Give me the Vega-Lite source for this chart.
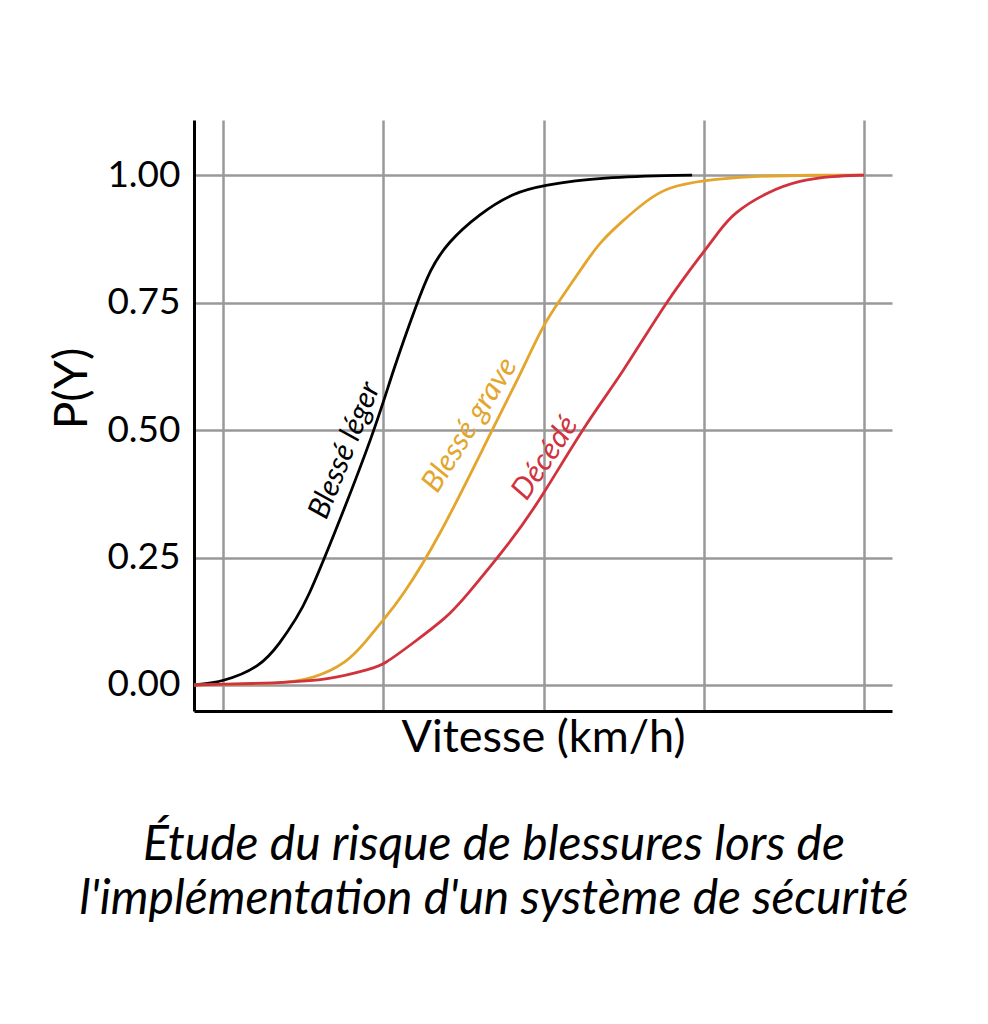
{
  "$schema": "https://vega.github.io/schema/vega-lite/v6.json",
  "autosize": "none",
  "width": 698,
  "height": 591,
  "padding": {"left": 194, "top": 120, "right": 96, "bottom": 313},
  "background": "white",
  "config": {
    "view": {"stroke": null},
    "font": "Lato"
  },
  "title": {
    "text": ["Étude du risque de blessures lors de", "l'implémentation d'un système de sécurité"],
    "orient": "bottom",
    "anchor": "middle",
    "font": "Lato",
    "fontStyle": "italic",
    "fontWeight": "normal",
    "fontSize": 48,
    "lineHeight": 54,
    "color": "black",
    "offset": 62,
    "dx": -49
  },
  "datasets": {
    "curves": [
      {"series": "Blessé léger", "speed": -0.181, "p": 0},
      {"series": "Blessé léger", "speed": 0, "p": 0.006},
      {"series": "Blessé léger", "speed": 0.231, "p": 0.035},
      {"series": "Blessé léger", "speed": 0.356, "p": 0.082},
      {"series": "Blessé léger", "speed": 0.462, "p": 0.133},
      {"series": "Blessé léger", "speed": 0.524, "p": 0.167},
      {"series": "Blessé léger", "speed": 0.68, "p": 0.284},
      {"series": "Blessé léger", "speed": 0.948, "p": 0.5},
      {"series": "Blessé léger", "speed": 1.061, "p": 0.618},
      {"series": "Blessé léger", "speed": 1.21, "p": 0.749},
      {"series": "Blessé léger", "speed": 1.291, "p": 0.814},
      {"series": "Blessé léger", "speed": 1.397, "p": 0.867},
      {"series": "Blessé léger", "speed": 1.603, "p": 0.925},
      {"series": "Blessé léger", "speed": 1.809, "p": 0.965},
      {"series": "Blessé léger", "speed": 1.996, "p": 0.98},
      {"series": "Blessé léger", "speed": 2.352, "p": 0.996},
      {"series": "Blessé léger", "speed": 2.926, "p": 1.0},
      {"series": "Blessé grave", "speed": -0.181, "p": 0},
      {"series": "Blessé grave", "speed": 0.356, "p": 0.002},
      {"series": "Blessé grave", "speed": 0.561, "p": 0.012},
      {"series": "Blessé grave", "speed": 0.774, "p": 0.043},
      {"series": "Blessé grave", "speed": 0.898, "p": 0.088},
      {"series": "Blessé grave", "speed": 0.998, "p": 0.127},
      {"series": "Blessé grave", "speed": 1.104, "p": 0.167},
      {"series": "Blessé grave", "speed": 1.341, "p": 0.284},
      {"series": "Blessé grave", "speed": 1.678, "p": 0.5},
      {"series": "Blessé grave", "speed": 1.853, "p": 0.608},
      {"series": "Blessé grave", "speed": 1.996, "p": 0.706},
      {"series": "Blessé grave", "speed": 2.102, "p": 0.755},
      {"series": "Blessé grave", "speed": 2.271, "p": 0.833},
      {"series": "Blessé grave", "speed": 2.352, "p": 0.868},
      {"series": "Blessé grave", "speed": 2.477, "p": 0.906},
      {"series": "Blessé grave", "speed": 2.645, "p": 0.951},
      {"series": "Blessé grave", "speed": 2.77, "p": 0.976},
      {"series": "Blessé grave", "speed": 3.001, "p": 0.99},
      {"series": "Blessé grave", "speed": 3.288, "p": 0.998},
      {"series": "Blessé grave", "speed": 3.693, "p": 1.0},
      {"series": "Blessé grave", "speed": 3.999, "p": 1.0},
      {"series": "Décédé", "speed": -0.181, "p": 0},
      {"series": "Décédé", "speed": 0.356, "p": 0.004},
      {"series": "Décédé", "speed": 0.667, "p": 0.01},
      {"series": "Décédé", "speed": 0.936, "p": 0.033},
      {"series": "Décédé", "speed": 0.998, "p": 0.039},
      {"series": "Décédé", "speed": 1.185, "p": 0.082},
      {"series": "Décédé", "speed": 1.397, "p": 0.133},
      {"series": "Décédé", "speed": 1.497, "p": 0.167},
      {"series": "Décédé", "speed": 1.803, "p": 0.284},
      {"series": "Décédé", "speed": 1.978, "p": 0.363},
      {"series": "Décédé", "speed": 2.277, "p": 0.52},
      {"series": "Décédé", "speed": 2.477, "p": 0.604},
      {"series": "Décédé", "speed": 2.77, "p": 0.755},
      {"series": "Décédé", "speed": 3.007, "p": 0.853},
      {"series": "Décédé", "speed": 3.1, "p": 0.892},
      {"series": "Décédé", "speed": 3.181, "p": 0.925},
      {"series": "Décédé", "speed": 3.394, "p": 0.967},
      {"series": "Décédé", "speed": 3.599, "p": 0.99},
      {"series": "Décédé", "speed": 3.805, "p": 0.998},
      {"series": "Décédé", "speed": 3.999, "p": 1.0}
    ],
    "labels": [
      {"series": "Blessé léger", "speed": 0.76, "p": 0.46},
      {"series": "Blessé grave", "speed": 1.54, "p": 0.51},
      {"series": "Décédé", "speed": 2.01, "p": 0.445}
    ]
  },
  "layer": [
    {
      "data": {"name": "curves"},
      "mark": {"type": "line", "interpolate": "basis", "strokeWidth": 2.8},
      "encoding": {
        "x": {
          "field": "speed", "type": "quantitative",
          "scale": {"domain": [-0.181, 4.173], "nice": false, "zero": false},
          "axis": {
            "title": "Vitesse (km/h)",
            "titleFont": "Lato", "titleFontSize": 45, "titleFontWeight": "normal", "titleColor": "black",
            "titlePadding": 4,
            "values": [0, 1, 2, 3, 4],
            "labels": false, "ticks": false,
            "domainColor": "black", "domainWidth": 3,
            "grid": true, "gridColor": "#999999", "gridWidth": 2.5
          }
        },
        "y": {
          "field": "p", "type": "quantitative",
          "scale": {"domain": [-0.051, 1.108], "nice": false, "zero": false},
          "axis": {
            "title": "P(Y)",
            "titleFont": "Lato", "titleFontSize": 46, "titleFontWeight": "normal", "titleColor": "black",
            "titleBaseline": "middle", "titleX": -122, "titleY": 268,
            "values": [0, 0.25, 0.5, 0.75, 1.0],
            "format": ".2f",
            "labelFont": "Lato", "labelFontSize": 37, "labelColor": "black", "labelPadding": 14,
            "ticks": false,
            "domainColor": "black", "domainWidth": 3,
            "grid": true, "gridColor": "#999999", "gridWidth": 2.5
          }
        },
        "color": {
          "field": "series", "type": "nominal",
          "scale": {"domain": ["Blessé léger", "Blessé grave", "Décédé"], "range": ["#000000", "#E3A52B", "#D1323D"]},
          "legend": null
        },
        "order": {"field": "speed", "type": "quantitative"}
      }
    },
    {
      "data": {"name": "labels"},
      "transform": [{"filter": "datum.series === 'Blessé léger'"}],
      "mark": {"type": "text", "angle": -68, "font": "Lato", "fontStyle": "italic", "fontSize": 30, "align": "center", "baseline": "middle", "color": "#000000"},
      "encoding": {
        "x": {"field": "speed", "type": "quantitative"},
        "y": {"field": "p", "type": "quantitative"},
        "text": {"field": "series"}
      }
    },
    {
      "data": {"name": "labels"},
      "transform": [{"filter": "datum.series === 'Blessé grave'"}],
      "mark": {"type": "text", "angle": -58, "font": "Lato", "fontStyle": "italic", "fontSize": 30, "align": "center", "baseline": "middle", "color": "#E3A52B"},
      "encoding": {
        "x": {"field": "speed", "type": "quantitative"},
        "y": {"field": "p", "type": "quantitative"},
        "text": {"field": "series"}
      }
    },
    {
      "data": {"name": "labels"},
      "transform": [{"filter": "datum.series === 'Décédé'"}],
      "mark": {"type": "text", "angle": -56, "font": "Lato", "fontStyle": "italic", "fontSize": 30, "align": "center", "baseline": "middle", "color": "#D1323D"},
      "encoding": {
        "x": {"field": "speed", "type": "quantitative"},
        "y": {"field": "p", "type": "quantitative"},
        "text": {"field": "series"}
      }
    }
  ]
}
